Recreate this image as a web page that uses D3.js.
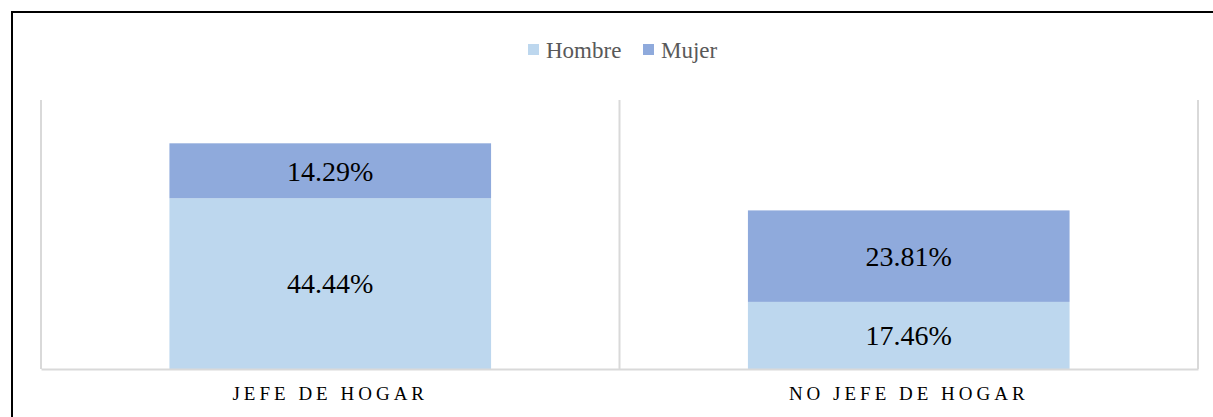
<!DOCTYPE html>
<html>
<head>
<meta charset="utf-8">
<script src="https://cdn.jsdelivr.net/npm/d3@7"></script>
<style>
  body { margin: 0; background: #fff; }
  svg { display: block; }
</style>
</head>
<body>
<div id="chart"></div>
<script>
// Data
const categories = ["JEFE DE HOGAR", "NO JEFE DE HOGAR"];
const seriesNames = ["Hombre", "Mujer"];
const hombre = [44.44, 17.46];
const mujer = [14.29, 23.81];
const colors = ["#BDD7EE", "#8FAADC"];

const W = 1213, H = 417;
const plot = {left: 41, right: 1198, top: 100, bottom: 369};
const serif = "'Liberation Serif', 'Times New Roman', Times, serif";

const svg = d3.select("#chart").append("svg")
    .attr("width", W)
    .attr("height", H);

// outer frame
svg.append("rect")
    .attr("x", 12).attr("y", 12)
    .attr("width", W + 10).attr("height", H + 10)
    .attr("fill", "none")
    .attr("stroke", "#000")
    .attr("stroke-width", 2);

const rows = categories.map((c, i) => ({cat: c, Hombre: hombre[i], Mujer: mujer[i]}));
const stacked = d3.stack().keys(seriesNames)(rows);

const x = d3.scaleBand()
    .domain(categories)
    .range([plot.left, plot.right])
    .paddingInner(0.444)
    .paddingOuter(0.222);

const xCat = d3.scaleBand()
    .domain(categories)
    .range([plot.left, plot.right]);

const y = d3.scaleLinear()
    .domain([0, 70])
    .range([plot.bottom, plot.top]);

const color = d3.scaleOrdinal().domain(seriesNames).range(colors);

// category separator gridlines
const bounds = [plot.left].concat(categories.map(c => xCat(c) + xCat.bandwidth()));
svg.append("g").selectAll("line")
    .data(bounds)
    .join("line")
    .attr("x1", d => d).attr("x2", d => d)
    .attr("y1", plot.top).attr("y2", plot.bottom)
    .attr("stroke", "#d9d9d9")
    .attr("stroke-width", 2);

// bars
const layers = svg.append("g").selectAll("g")
    .data(stacked)
    .join("g")
    .attr("fill", d => color(d.key));

layers.selectAll("rect")
    .data(d => d)
    .join("rect")
    .attr("x", d => x(d.data.cat))
    .attr("y", d => y(d[1]))
    .attr("width", x.bandwidth())
    .attr("height", d => y(d[0]) - y(d[1]));

// value labels
layers.selectAll("text")
    .data(d => d)
    .join("text")
    .attr("x", d => x(d.data.cat) + x.bandwidth() / 2)
    .attr("y", d => (y(d[0]) + y(d[1])) / 2)
    .attr("dy", "0.35em")
    .attr("text-anchor", "middle")
    .attr("fill", "#000")
    .style("font-family", serif)
    .style("font-size", "28px")
    .text(d => (d[1] - d[0]).toFixed(2) + "%");

// baseline axis
const xAxis = svg.append("g")
    .attr("transform", `translate(0,${plot.bottom})`)
    .call(d3.axisBottom(xCat).tickSize(0).tickPadding(18));
xAxis.select(".domain").attr("stroke", "#d9d9d9").attr("stroke-width", 2);
xAxis.selectAll("text")
    .attr("fill", "#000")
    .style("font-family", serif)
    .style("font-size", "19px")
    .style("letter-spacing", "4px");

// legend
const legend = svg.append("g").attr("transform", "translate(528,49.5)");
const items = legend.selectAll("g")
    .data(seriesNames)
    .join("g")
    .attr("transform", (d, i) => `translate(${i * 115},0)`);
items.append("rect")
    .attr("x", 0).attr("y", -5.5)
    .attr("width", 11).attr("height", 11)
    .attr("fill", d => color(d));
items.append("text")
    .attr("x", 18)
    .attr("dy", "0.35em")
    .attr("fill", "#595959")
    .style("font-family", serif)
    .style("font-size", "23px")
    .text(d => d);
</script>
</body>
</html>
